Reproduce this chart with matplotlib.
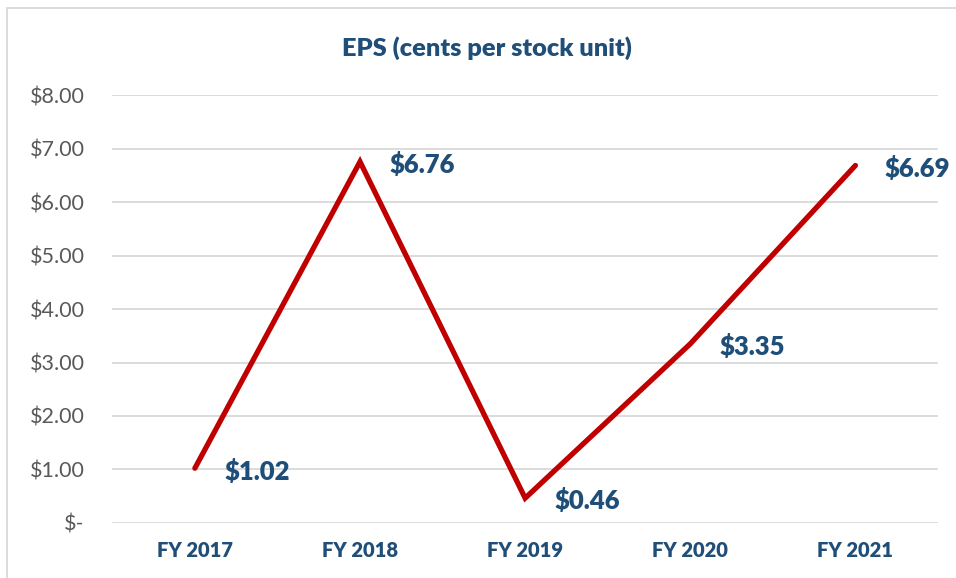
import matplotlib
matplotlib.use("Agg")
import matplotlib.pyplot as plt
from matplotlib.patches import Rectangle

categories = ["FY 2017", "FY 2018", "FY 2019", "FY 2020", "FY 2021"]
eps = [1.02, 6.76, 0.46, 3.35, 6.69]
yticks = [0, 1, 2, 3, 4, 5, 6, 7, 8]
ytick_labels = ["$-", "$1.00", "$2.00", "$3.00", "$4.00", "$5.00", "$6.00", "$7.00", "$8.00"]

W, H = 956, 578
fig = plt.figure(figsize=(W / 100, H / 100), dpi=100)
plt.rcParams['font.family'] = ['Lato', 'DejaVu Sans']

blue = "#1F4E79"
red = "#C00000"
gray_text = "#595959"
grid = "#D9D9D9"

# outer chart border (partially cropped)
fig.patches.append(Rectangle((7 / W, -0.05), 1.2, 1 - 7.5 / H + 0.05, transform=fig.transFigure,
                             fill=False, edgecolor=grid, linewidth=1.3))

ax = fig.add_axes([112.3 / W, (H - 522.7) / H, (938 - 112.3) / W, (522.7 - 95.5) / H])
x = list(range(len(categories)))
ax.plot(x, eps, color=red, linewidth=3.8, solid_capstyle='round', solid_joinstyle='miter', zorder=3)
ax.set_xlim(-0.5, len(categories) - 0.5)
ax.set_ylim(0, 8)
ax.set_yticks(yticks)
ax.set_yticklabels(ytick_labels, color=gray_text, fontsize=15.5)
ax.set_xticks(x)
ax.set_xticklabels(categories, color=blue, fontsize=14.5, fontweight='heavy')
ax.tick_params(axis='both', length=0)
ax.tick_params(axis='y', pad=20)
ax.tick_params(axis='x', pad=13)
for s in ax.spines.values():
    s.set_visible(False)
ax.grid(axis='y', color=grid, linewidth=1.3)
ax.set_axisbelow(True)

for xi, v in zip(x, eps):
    ax.annotate(f"${v:.2f}", (xi, v), xytext=(21, -2), textcoords='offset points',
                ha='left', va='center', color=blue, fontsize=18.5, fontweight='heavy')

fig.text(487 / W, 1 - 48.5 / H, "EPS (cents per stock unit)", ha='center', va='center',
         color=blue, fontsize=18.3, fontweight='heavy')

fig.savefig("out.png", dpi=100, facecolor='white')
